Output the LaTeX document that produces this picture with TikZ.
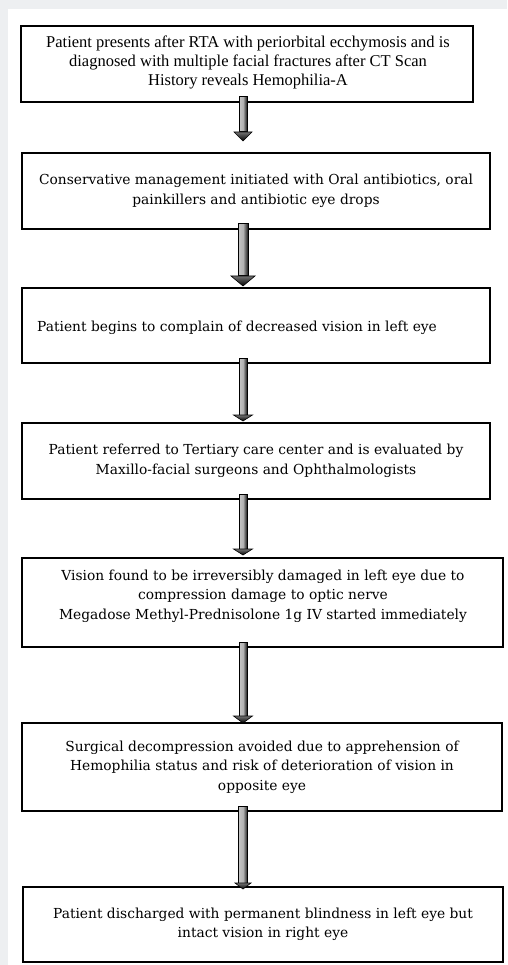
\documentclass[tikz,border=0pt]{standalone}
\usepackage{fontspec}
\setmainfont{Liberation Serif}
\newfontfamily\boxfont{DejaVu Serif}
\usetikzlibrary{calc}
\definecolor{pagegrey}{HTML}{EDEFF1}
\tikzset{
  flowbox/.style={draw=black, line width=2pt, fill=white, rectangle, inner sep=0pt, align=center},
  firstfont/.style={font=\fontsize{16.5}{19}\selectfont},
  restfont/.style={font=\boxfont\fontsize{13.8}{19.5}\selectfont},
  boxtext/.style={inner sep=0pt, align=center},
  shaftstyle/.style={draw=black, line width=1pt, left color=gray!45, right color=black!90, middle color=gray!60},
  headstyle/.style={draw=black, line width=0.6pt, top color=black!55, bottom color=black},
}
% #1 from node, #2 to node, #3 half shaft width, #4 half head width, #5 head length, #6 gap above tip
\newcommand\flowarrow[6]{%
  \coordinate (fa-s) at (#1.south -| ax);
  \coordinate (fa-e) at ([yshift=#6]#2.north -| ax);
  \path[shaftstyle] ([xshift=-#3, yshift=6pt]fa-s) rectangle ([xshift=#3, yshift=#5]fa-e);
  \path[headstyle] ([xshift=-#4, yshift=#5]fa-e) -- ([xshift=#4, yshift=#5]fa-e) -- (fa-e) -- cycle;
}
\begin{document}
\begin{tikzpicture}[x=1pt, y=-1pt]
\useasboundingbox (0,0) rectangle (507,965);
\fill[pagegrey] (0,0) rectangle (507,965);
\fill[white] (8,9) rectangle (507,965);
\coordinate (ax) at (243,0);

\node[flowbox, minimum width=452pt, minimum height=76pt] (b1) at (247,64) {};
\node[boxtext, firstfont] (t1) at (248,62)
  {Patient presents after RTA with periorbital ecchymosis and is\\
   diagnosed with multiple facial fractures after CT Scan\\
   History reveals Hemophilia-A};
\node[flowbox, restfont, minimum width=468pt, minimum height=76pt] (b2) at (256,191)
  {Conservative management initiated with Oral antibiotics, oral\\
   painkillers and antibiotic eye drops};
\node[flowbox, minimum width=468pt, minimum height=75pt] (b3) at (256,325.5) {};
\node[restfont, anchor=west, inner sep=0pt] (t3) at (37,328)
  {Patient begins to complain of decreased vision in left eye};
\node[flowbox, restfont, minimum width=468pt, minimum height=76pt] (b4) at (256,461)
  {Patient referred to Tertiary care center and is evaluated by\\
   Maxillo-facial surgeons and Ophthalmologists};
\node[flowbox, minimum width=481pt, minimum height=89pt] (b5) at (262.5,602.5) {};
\node[boxtext, restfont] (t5) at (263,596)
  {Vision found to be irreversibly damaged in left eye due to\\
   compression damage to optic nerve\\
   Megadose Methyl-Prednisolone 1g IV started immediately};
\node[flowbox, restfont, minimum width=480pt, minimum height=88pt] (b6) at (262,767)
  {Surgical decompression avoided due to apprehension of\\
   Hemophilia status and risk of deterioration of vision in\\
   opposite eye};
\node[flowbox, restfont, minimum width=480pt, minimum height=75pt] (b7) at (263,924.5)
  {Patient discharged with permanent blindness in left eye but\\
   intact vision in right eye};

\flowarrow{b1}{b2}{4pt}{9pt}{9pt}{11pt}
\flowarrow{b2}{b3}{5pt}{12pt}{10pt}{1pt}
\flowarrow{b3}{b4}{4pt}{9.5pt}{6pt}{1pt}
\flowarrow{b4}{b5}{4pt}{9.5pt}{6pt}{2pt}
\flowarrow{b5}{b6}{4pt}{9.5pt}{7pt}{-1pt}
\flowarrow{b6}{b7}{4.5pt}{8pt}{6pt}{-3pt}
\end{tikzpicture}
\end{document}
